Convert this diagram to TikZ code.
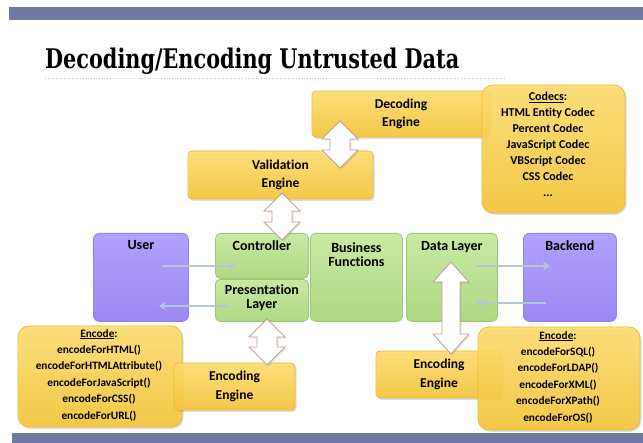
\documentclass[tikz,border=0pt]{standalone}
\usepackage{fontspec}
\setmainfont[Ligatures={NoCommon}]{Carlito}
\newfontfamily\titlefont[FakeStretch=0.77]{DejaVu Serif}
\usetikzlibrary{calc,shadows,arrows.meta}

\definecolor{barcol}{HTML}{7179A3}
\definecolor{ytop}{HTML}{FFDF6E}
\definecolor{ybot}{HTML}{F8C634}
\definecolor{yedge}{HTML}{EDB934}
\definecolor{gtop}{HTML}{C8EAA2}
\definecolor{gbot}{HTML}{AED985}
\definecolor{gedge}{HTML}{9CC774}
\definecolor{ptop}{HTML}{B1A0FB}
\definecolor{pbot}{HTML}{9C88F3}
\definecolor{pedge}{HTML}{9382EA}
\definecolor{flowcol}{HTML}{B4C7D3}
\definecolor{blockedge}{HTML}{C4A196}

\tikzset{
  ybox/.style={draw=yedge, line width=0.8pt, top color=ytop, bottom color=ybot,
    rounded corners=4pt, fill opacity=0.88, text opacity=1, inner sep=0pt,
    font=\bfseries\fontsize{13.5}{18.5}\selectfont, align=center,
    drop shadow={opacity=0.28, shadow xshift=1.5pt, shadow yshift=-1.8pt}},
  listbox/.style={ybox, rounded corners=11pt},
  gbox/.style={draw=gedge, line width=0.8pt, top color=gtop, bottom color=gbot,
    rounded corners=5pt, inner sep=0pt},
  pbox/.style={draw=pedge, line width=0.8pt, top color=ptop, bottom color=pbot,
    rounded corners=6pt, inner sep=0pt},
  lbl/.style={font=\bfseries\fontsize{14}{14}\selectfont, align=center, inner sep=0pt},
  codectxt/.style={font=\bfseries\fontsize{12}{16}\selectfont, align=center, inner sep=0pt},
  listtxt/.style={font=\bfseries\fontsize{11.3}{16.4}\selectfont, align=center, inner sep=0pt},
  flow/.style={draw=flowcol, line width=2.6pt, -{Stealth[length=7pt,width=9pt]}},
  barrow/.style={draw=blockedge, line width=0.9pt, fill=white, line join=miter,
    drop shadow={opacity=0.2, shadow xshift=1.5pt, shadow yshift=-1.5pt}},
}

% vertical block arrow with a head at both ends:
% #1 centre x, #2 top tip y, #3 bottom tip y, #4 half shaft, #5 half head, #6 head length
\newcommand\blockdouble[6]{%
  \path[barrow] (#1,#2) -- (#1+#5,#2+#6) -- (#1+#4,#2+#6) -- (#1+#4,#3-#6)
    -- (#1+#5,#3-#6) -- (#1,#3) -- (#1-#5,#3-#6) -- (#1-#4,#3-#6)
    -- (#1-#4,#2+#6) -- (#1-#5,#2+#6) -- cycle;}

\begin{document}
\begin{tikzpicture}[x=1pt,y=-1pt]
\useasboundingbox (0,0) rectangle (643,443);

% header and footer bands
\fill[barcol] (9,7) rectangle (643,20);
\fill[barcol] (12,433) rectangle (643,443);

% title
\node[anchor=base west, inner sep=0pt, font=\titlefont\bfseries\fontsize{27}{30}\selectfont]
  (title) at (45,69) {Decoding/Encoding Untrusted Data};
\draw[gray!45, line width=0.7pt, dotted] (45,78) -- (505,78);

% decoding side
\node[ybox, minimum width=178pt, minimum height=46pt] (dec) at (401,114) {Decoding\\Engine};
\node[listbox, minimum width=143pt, minimum height=128pt] (codecs) at (553.5,149) {};
\node[codectxt, anchor=north] (codectxt) at (548,92)
  {\underline{Codecs}:\\HTML Entity Codec\\Percent Codec\\JavaScript Codec\\VBScript Codec\\CSS Codec\\...};
\node[ybox, minimum width=185pt, minimum height=48pt] (val) at (280.5,175) {Validation\\Engine};

% application layers
\node[pbox, minimum width=95pt, minimum height=88pt, anchor=north west] (user) at (93,233) {};
\node[lbl, anchor=north] at ($(user.north)+(0,7)$) {User};
\node[gbox, minimum width=93pt, minimum height=45pt, anchor=north west] (ctrl) at (215,233) {};
\node[lbl, anchor=north] at ($(ctrl.north)+(0,7)$) {Controller};
\node[gbox, minimum width=93pt, minimum height=42pt, anchor=north west] (pres) at (215,279) {};
\node[lbl, anchor=north] at ($(pres.north)+(0,5)$) {Presentation\\Layer};
\node[gbox, minimum width=92pt, minimum height=88pt, anchor=north west] (bus) at (310,233) {};
\node[lbl, anchor=north] at ($(bus.north)+(0,9)$) {Business\\Functions};
\node[gbox, minimum width=91pt, minimum height=88pt, anchor=north west] (data) at (406,233) {};
\node[lbl, anchor=north] at ($(data.north)+(0,8)$) {Data Layer};
\node[pbox, minimum width=93pt, minimum height=88pt, anchor=north west] (back) at (523,233) {};
\node[lbl, anchor=north] at ($(back.north)+(0,7)$) {Backend};

% request and response flows
\coordinate (u1) at ($(user.north west)+(69,33)$);
\coordinate (c1) at ($(ctrl.north west)+(21,33)$);
\draw[flow] (u1) -- (c1);
\coordinate (p1) at ($(pres.north west)+(14,27)$);
\coordinate (u2) at ($(user.north west)+(66,73)$);
\draw[flow] (p1) -- (u2);
\coordinate (d1) at ($(data.north west)+(70,33)$);
\coordinate (b1) at ($(back.north west)+(27,33)$);
\draw[flow] (d1) -- (b1);
\coordinate (b2) at ($(back.north west)+(23,70)$);
\coordinate (d2) at ($(data.north west)+(70,70)$);
\draw[flow] (b2) -- (d2);

% encoding side
\node[listbox, minimum width=164pt, minimum height=101pt] (encl) at (100,376.5) {};
\node[listtxt, anchor=north] (encltxt) at (99,329)
  {\underline{Encode}:\\encodeForHTML()\\encodeForHTMLAttribute()\\encodeForJavaScript()\\encodeForCSS()\\encodeForURL()};
\node[ybox, minimum width=121pt, minimum height=47pt] (engl) at (234.5,386.5) {Encoding\\Engine};

\node[ybox, minimum width=126pt, minimum height=47pt] (engr) at (439,374.5) {Encoding\\Engine};
\node[listbox, minimum width=162pt, minimum height=103pt] (encr) at (559,378.5) {};
\node[listtxt, anchor=north] (encrtxt) at (558,331)
  {\underline{Encode}:\\encodeForSQL()\\encodeForLDAP()\\encodeForXML()\\encodeForXPath()\\encodeForOS()};

% block arrows between the engines and the layers
\blockdouble{340}{121}{168}{10}{18}{18}
\blockdouble{282}{193}{240}{10}{18}{18}
\blockdouble{267}{319}{365}{10}{18}{18}
\blockdouble{451}{262}{354}{9}{18}{20}
\end{tikzpicture}
\end{document}
